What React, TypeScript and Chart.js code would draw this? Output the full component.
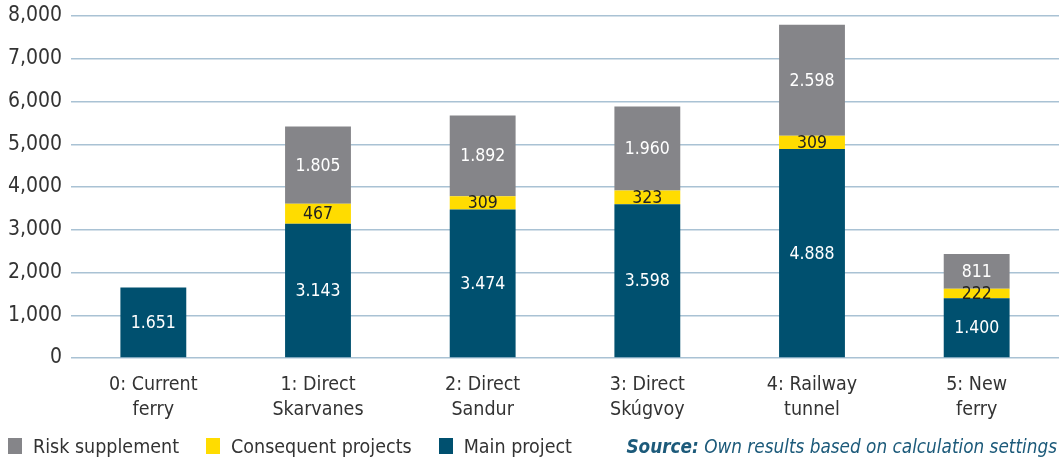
import React, { useEffect, useRef } from "react";
import { Chart, registerables } from "chart.js";

Chart.register(...registerables);

const categories: string[][] = [
  ["0: Current", "ferry"],
  ["1: Direct", "Skarvanes"],
  ["2: Direct", "Sandur"],
  ["3: Direct", "Skúgvoy"],
  ["4: Railway", "tunnel"],
  ["5: New", "ferry"],
];
const mainProject: (number | null)[] = [1651, 3143, 3474, 3598, 4888, 1400];
const consequentProjects: (number | null)[] = [null, 467, 309, 323, 309, 222];
const riskSupplement: (number | null)[] = [null, 1805, 1892, 1960, 2598, 811];
const yTicks: number[] = [0, 1000, 2000, 3000, 4000, 5000, 6000, 7000, 8000];

const COLORS = {
  main: "#00506f",
  consequent: "#ffdc00",
  risk: "#858589",
  grid: "#a9c2d4",
  text: "#333333",
  source: "#1c5a7a",
};
const FONT = "'Liberation Sans Narrow', 'DejaVu Sans Condensed', Roboto, sans-serif";

const fmtDot = (v: number) => String(v).replace(/\B(?=(\d{3})+(?!\d))/g, ".");
const fmtComma = (v: number) => String(v).replace(/\B(?=(\d{3})+(?!\d))/g, ",");

const valueLabels = {
  id: "valueLabels",
  afterDatasetsDraw(chart: any) {
    const ctx = chart.ctx;
    ctx.save();
    ctx.font = `17.5px ${FONT}`;
    ctx.textAlign = "center";
    ctx.textBaseline = "middle";
    chart.data.datasets.forEach((ds: any, di: number) => {
      const meta = chart.getDatasetMeta(di);
      meta.data.forEach((el: any, i: number) => {
        const v = ds.data[i];
        if (v == null) return;
        ctx.fillStyle = di === 1 ? "#222222" : "#ffffff";
        ctx.fillText(fmtDot(v), el.x, (el.y + el.base) / 2 + 1);
      });
    });
    ctx.restore();
  },
};

export default function App() {
  const ref = useRef<HTMLCanvasElement | null>(null);
  useEffect(() => {
    if (!ref.current) return;
    const chart = new Chart(ref.current, {
      type: "bar",
      data: {
        labels: categories,
        datasets: [
          { label: "Main project", data: mainProject, backgroundColor: COLORS.main },
          { label: "Consequent projects", data: consequentProjects, backgroundColor: COLORS.consequent },
          { label: "Risk supplement", data: riskSupplement, backgroundColor: COLORS.risk },
        ],
      },
      options: {
        responsive: false,
        animation: false,
        layout: { padding: { top: 16, left: 0, right: 0, bottom: 0 } },
        datasets: { bar: { barPercentage: 0.4, categoryPercentage: 1 } },
        plugins: { legend: { display: false }, tooltip: { enabled: false } },
        scales: {
          x: {
            stacked: true,
            grid: { display: false, drawTicks: false },
            border: { display: false },
            ticks: { color: COLORS.text, font: { family: FONT, size: 19.5, lineHeight: 1.25 }, padding: 15, maxRotation: 0 },
            afterFit: (s: any) => { s.height = 103; s.paddingLeft = 0; s.paddingRight = 0; },
          },
          y: {
            stacked: true,
            min: 0,
            max: 8000,
            afterBuildTicks: (s: any) => { s.ticks = yTicks.map((v) => ({ value: v })); },
            grid: { color: COLORS.grid, lineWidth: 1.5, drawTicks: false },
            border: { display: false },
            ticks: { color: COLORS.text, font: { family: FONT, size: 21 }, padding: 9, callback: (v: any) => fmtComma(Number(v)) },
            afterFit: (s: any) => { s.width = 71; s.paddingTop = 0; s.paddingBottom = 0; },
          },
        },
      },
      plugins: [valueLabels],
    });
    return () => chart.destroy();
  }, []);

  const legendItems = [
    { label: "Risk supplement", color: COLORS.risk },
    { label: "Consequent projects", color: COLORS.consequent },
    { label: "Main project", color: COLORS.main },
  ];

  return (
    <div style={{ position: "fixed", left: 0, top: 0, width: 1059, height: 461, background: "#fff" }}>
      <canvas ref={ref} width={1059} height={461} style={{ display: "block" }} />
      <div style={{ position: "absolute", left: 8, top: 435, height: 22, display: "flex", alignItems: "center", fontFamily: FONT, fontSize: 19.5, color: COLORS.text, whiteSpace: "nowrap" }}>
        {legendItems.map((it) => (
          <div key={it.label} style={{ display: "flex", alignItems: "center", marginRight: 27 }}>
            <span style={{ display: "inline-block", width: 14, height: 16, background: it.color, marginRight: 11 }} />
            <span>{it.label}</span>
          </div>
        ))}
      </div>
      <div style={{ position: "absolute", right: 2, top: 435, height: 22, display: "flex", alignItems: "center", fontFamily: FONT, fontSize: 18.8, fontStyle: "italic", color: COLORS.source, whiteSpace: "nowrap" }}>
        <span style={{ fontWeight: "bold" }}>Source:</span>&nbsp;Own results based on calculation settings
      </div>
    </div>
  );
}
